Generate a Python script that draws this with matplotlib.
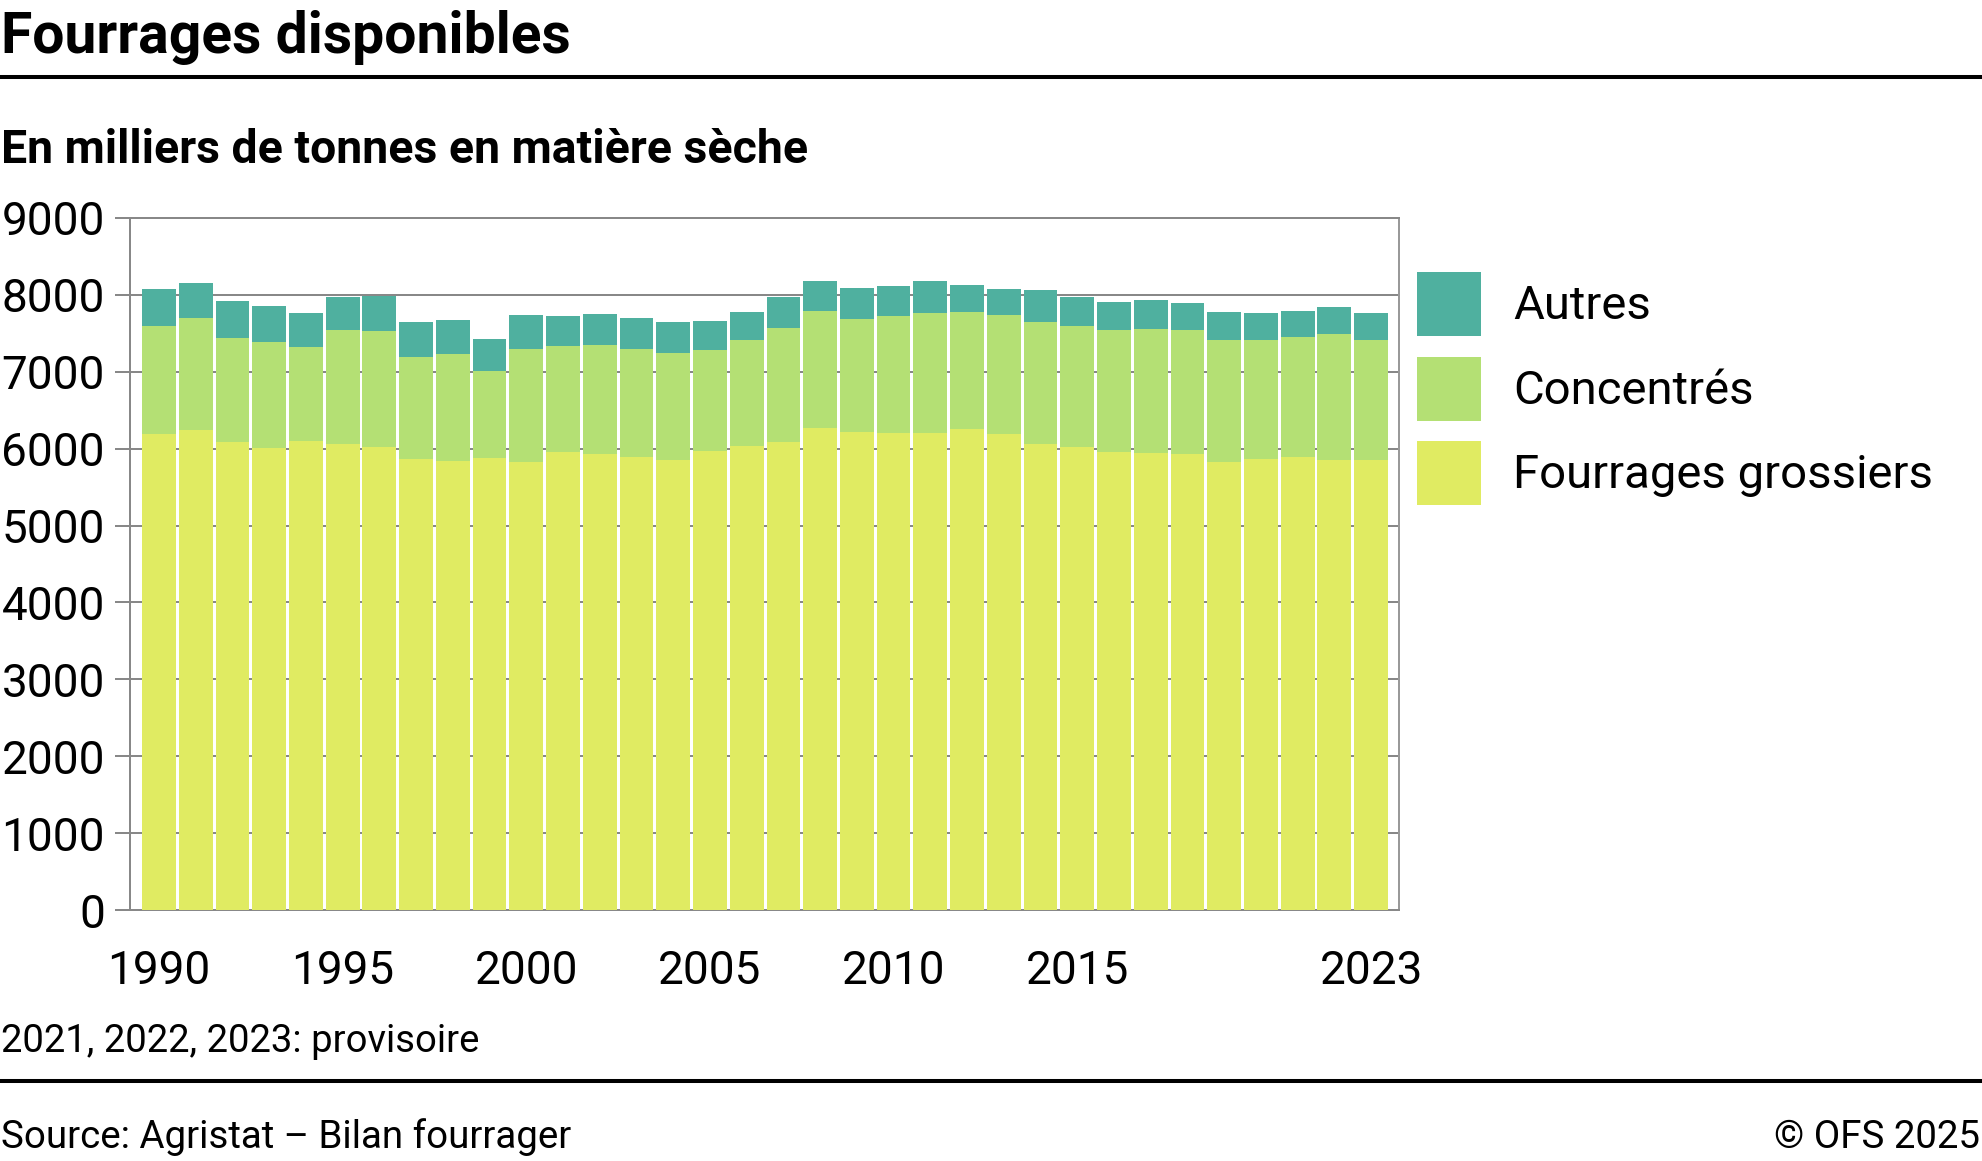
import numpy as np
import matplotlib.pyplot as plt
from matplotlib.lines import Line2D

plt.rcParams['font.family'] = ['Roboto', 'DejaVu Sans']

# data (milliers de tonnes en matiere seche)
years = np.arange(1990, 2024)
fourrages = [6186, 6242, 6082, 6004, 6100, 6056, 6022, 5861, 5835, 5874,
             5822, 5952, 5926, 5892, 5849, 5965, 6030, 6082, 6264, 6212,
             6199, 6199, 6251, 6186, 6056, 6017, 5952, 5939, 5926, 5822,
             5861, 5887, 5849, 5849]
concentres = [1403, 1451, 1351, 1377, 1216, 1481, 1502, 1325, 1390, 1130,
              1468, 1377, 1416, 1398, 1389, 1312, 1377, 1481, 1520, 1468,
              1520, 1559, 1520, 1546, 1585, 1572, 1585, 1611, 1611, 1585,
              1546, 1559, 1636, 1558]
autres = [493, 467, 493, 480, 442, 441, 467, 455, 442, 416,
          442, 390, 403, 403, 403, 377, 364, 415, 402, 415,
          402, 428, 363, 350, 428, 389, 376, 389, 363, 364,
          351, 338, 363, 351]
labels = ['Fourrages grossiers', 'Concentrés', 'Autres']
colors = ['#e0eb62', '#b4e074', '#4fb09f']
xticks = [1990, 1995, 2000, 2005, 2010, 2015, 2023]

W, H = 1983, 1161
fig = plt.figure(figsize=(W / 100, H / 100), dpi=100)
ax = fig.add_axes([130 / W, 1 - 910 / H, (1399 - 130) / W, (910 - 218) / H])

f = np.array(fourrages)
c = np.array(concentres)
a = np.array(autres)
b1 = ax.bar(years, f, width=0.92, color=colors[0], label=labels[0], zorder=3)
b2 = ax.bar(years, c, bottom=f, width=0.92, color=colors[1], label=labels[1], zorder=3)
b3 = ax.bar(years, a, bottom=f + c, width=0.92, color=colors[2], label=labels[2], zorder=3)

ax.set_xlim(1989.21, 2023.76)
ax.set_ylim(0, 9000)
ax.set_yticks(np.arange(0, 9001, 1000))
ax.set_xticks(xticks)
ax.yaxis.grid(True, color='#888888', lw=1.44)
ax.set_axisbelow(True)
for s in ax.spines.values():
    s.set_color('#888888')
    s.set_linewidth(1.44)
ax.spines['right'].set_color('#999999')
ax.tick_params(axis='y', length=10.8, width=1.44, color='#888888', pad=7.2, labelsize=33)
ax.tick_params(axis='x', length=0, pad=28, labelsize=33)

# handle height in matplotlib = fs*(0.65*hh + 0.245)
ax.legend([b3, b2, b1], [labels[2], labels[1], labels[0]],
          loc='upper left', bbox_to_anchor=(1417 / W, 1 - 272 / H),
          bbox_transform=fig.transFigure, frameon=False, fontsize=34,
          handlelength=1.36, handleheight=1.715, labelspacing=0.43,
          handletextpad=0.68, borderpad=0, borderaxespad=0)

fig.text(1 / W, 1 - 53 / H, 'Fourrages disponibles', fontsize=41,
         fontweight='bold', va='baseline', ha='left')
fig.text(1 / W, 1 - 163 / H, 'En milliers de tonnes en matière sèche',
         fontsize=33.4, fontweight='bold', va='baseline', ha='left')
fig.text(1 / W, 1 - 1052 / H, '2021, 2022, 2023: provisoire', fontsize=27.5,
         va='baseline', ha='left')
fig.text(1 / W, 1 - 1148 / H, 'Source: Agristat – Bilan fourrager', fontsize=27.7,
         va='baseline', ha='left')
fig.text(1980 / W, 1 - 1148 / H, '© OFS 2025', fontsize=27.7,
         va='baseline', ha='right')

fig.add_artist(Line2D([0, 1], [1 - 77 / H, 1 - 77 / H], color='black', lw=2.9,
                      transform=fig.transFigure))
fig.add_artist(Line2D([0, 1], [1 - 1081 / H, 1 - 1081 / H], color='black', lw=2.9,
                      transform=fig.transFigure))

fig.savefig('out.png', dpi=100)
